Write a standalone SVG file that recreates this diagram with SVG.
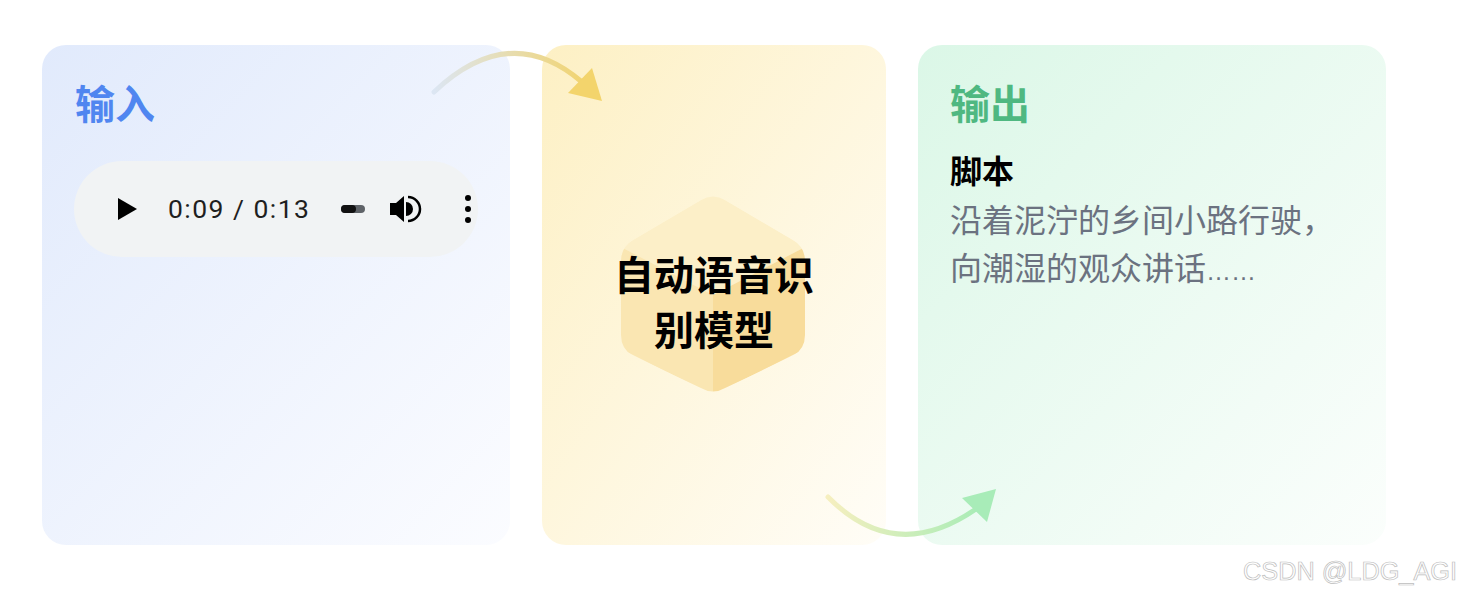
<svg xmlns="http://www.w3.org/2000/svg" width="1462" height="596" viewBox="0 0 1462 596">
  <defs>
    <linearGradient id="gBlue" x1="0" y1="0" x2="1" y2="1">
      <stop offset="0" stop-color="#e1eafc"/>
      <stop offset="1" stop-color="#fbfcff"/>
    </linearGradient>
    <linearGradient id="gYellow" x1="0" y1="0" x2="1" y2="1">
      <stop offset="0" stop-color="#fdf0c4"/>
      <stop offset="1" stop-color="#fffdf7"/>
    </linearGradient>
    <linearGradient id="gGreen" x1="0" y1="0" x2="1" y2="1">
      <stop offset="0" stop-color="#dbf7e7"/>
      <stop offset="1" stop-color="#fbfefc"/>
    </linearGradient>
    <linearGradient id="gArrow1" gradientUnits="userSpaceOnUse" x1="434" y1="92" x2="590" y2="85">
      <stop offset="0" stop-color="#dce6f3"/>
      <stop offset="1" stop-color="#f2d36b"/>
    </linearGradient>
    <linearGradient id="gArrow2" gradientUnits="userSpaceOnUse" x1="828" y1="497" x2="985" y2="505">
      <stop offset="0" stop-color="#f6efbf"/>
      <stop offset="1" stop-color="#a6ecb6"/>
    </linearGradient>
    <clipPath id="hexClip">
      <path d="M700.9,200.1 Q713,193 725.1,200.1 L792.9,239.9 Q805,247 805,261 L805,335 Q805,349 792.9,356.1 L725.1,387.9 Q713,395 700.9,387.9 L633.1,356.1 Q621,349 621,335 L621,261 Q621,247 633.1,239.9 Z"/>
    </clipPath>
    <style>
      .title { font-family: "Noto Sans CJK SC", sans-serif; font-size: 40px; font-weight: 700; }
      .model { font-family: "Noto Sans CJK SC", sans-serif; font-size: 40px; font-weight: 700; fill: #000; text-anchor: middle; }
      .sub { font-family: "Noto Sans CJK SC", sans-serif; font-size: 32px; font-weight: 700; fill: #000; }
      .body { font-family: "Liberation Sans", "Noto Sans CJK SC", sans-serif; font-size: 32px; fill: #6b7280; }
      .dots { font-size: 25px; }
      .time { font-family: Roboto, "Liberation Sans", sans-serif; font-size: 26.5px; fill: #1f1f1f; }
      .wm { font-family: "Liberation Sans", Arial, sans-serif; font-size: 25px; fill: #ffffff; stroke: #bdbdbd; stroke-width: 0.7; }
    </style>
  </defs>

  <rect width="1462" height="596" fill="#ffffff"/>

  <g id="panel-input">
    <rect x="42" y="45" width="468" height="500" rx="24" fill="url(#gBlue)"/>
    <text class="title" x="75" y="119" fill="#5086f0">输入</text>
    <g id="audio-player">
      <rect x="74" y="161" width="404" height="96" rx="48" fill="#f1f3f4"/>
      <path d="M118,198 L137,209 L118,220 Z" fill="#000"/>
      <text class="time" x="168" y="218" textLength="141" lengthAdjust="spacing">0:09 / 0:13</text>
      <rect x="341" y="205" width="24" height="8" rx="4" fill="#5f6368"/>
      <rect x="341" y="205" width="15" height="8" rx="4" fill="#111"/>
      <path d="M390,203 h6 l8,-7 v26 l-8,-7 h-6 z" fill="#000"/>
      <path d="M406,202 a7,7 0 0 1 0,14 z" fill="#000"/>
      <path d="M408,197 a12,12 0 0 1 0,24" fill="none" stroke="#000" stroke-width="2.5"/>
      <circle cx="468" cy="198" r="3" fill="#000"/>
      <circle cx="468" cy="209" r="3" fill="#000"/>
      <circle cx="468" cy="220" r="3" fill="#000"/>
    </g>
  </g>

  <g id="panel-model">
    <rect x="542" y="45" width="344" height="500" rx="24" fill="url(#gYellow)"/>
    <g id="hexagon" clip-path="url(#hexClip)">
      <path d="M713,193 L805,247 L713,295 L621,247 Z" fill="#fcefc8"/>
      <path d="M621,247 L713,295 L713,395 L621,349 Z" fill="#fae6b2"/>
      <path d="M713,295 L805,247 L805,349 L713,395 Z" fill="#f8dc9b"/>
    </g>
    <text class="model" x="714" y="290">自动语音识</text>
    <text class="model" x="714" y="345">别模型</text>
  </g>

  <g id="panel-output">
    <rect x="918" y="45" width="468" height="500" rx="24" fill="url(#gGreen)"/>
    <text class="title" x="950" y="119" fill="#4fb881">输出</text>
    <text class="sub" x="950" y="183">脚本</text>
    <text class="body" x="950" y="232">沿着泥泞的乡间小路行驶，</text>
    <text class="body" x="950" y="280">向潮湿的观众讲话<tspan class="dots">……</tspan></text>
  </g>

  <g id="connectors">
    <path d="M434,92 Q510,20 582,82" fill="none" stroke="url(#gArrow1)" stroke-width="5" stroke-linecap="round"/>
    <path d="M568,93 L592,68 L602,101 Z" fill="#f3d46c"/>
    <path d="M828,497 Q895,565 976,509" fill="none" stroke="url(#gArrow2)" stroke-width="5" stroke-linecap="round"/>
    <path d="M962,498 L996,489 L987,522 Z" fill="#a8ecb8"/>
  </g>

  <g id="watermark">
    <text class="wm" x="1243" y="580" textLength="214" lengthAdjust="spacingAndGlyphs">CSDN @LDG_AGI</text>
  </g>
</svg>
